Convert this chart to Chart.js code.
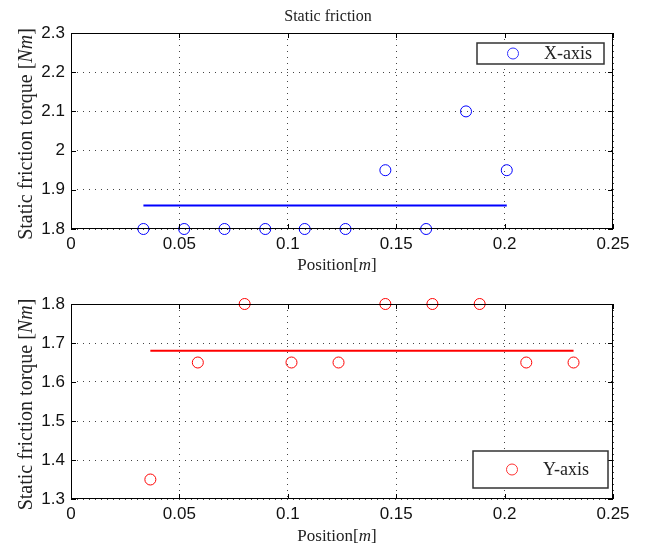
<!DOCTYPE html>
<html>
<head>
<meta charset="utf-8">
<script src="https://cdn.jsdelivr.net/npm/chart.js@4.4.0/dist/chart.umd.min.js"></script>
<style>
  body { margin: 0; background: #fff; }
  #wrap { position: relative; width: 646px; height: 550px; }
  .box { position: absolute; left: 0; width: 646px; height: 275px; }
</style>
</head>
<body>
<div id="wrap">
  <div class="box" style="top:0"><canvas id="chartX"></canvas></div>
  <div class="box" style="top:275px"><canvas id="chartY"></canvas></div>
</div>
<script>
// X-axis measurements
const xPos = [0.0334, 0.0522, 0.0708, 0.0896, 0.1078, 0.1266, 0.1450, 0.1638, 0.1822, 0.2010];
const xTorque = [1.80, 1.80, 1.80, 1.80, 1.80, 1.80, 1.95, 1.80, 2.10, 1.95];
const xMean = 1.86;

// Y-axis measurements
const yPos = [0.0366, 0.0585, 0.0801, 0.1017, 0.1234, 0.1450, 0.1667, 0.1885, 0.2100, 0.2318];
const yTorque = [1.35, 1.65, 1.80, 1.65, 1.65, 1.80, 1.80, 1.80, 1.65, 1.65];
const yMean = 1.68;

const serif = "'Liberation Serif', 'DejaVu Serif', serif";
const sans = "'Liberation Sans', Arial, sans-serif";

function drawMixed(ctx, parts, size, cx, cy) {
  let total = 0;
  parts.forEach(p => {
    ctx.font = (p[1] ? 'italic ' : '') + size + 'px ' + serif;
    p.w = ctx.measureText(p[0]).width;
    total += p.w;
  });
  let x = cx - total / 2;
  ctx.textAlign = 'left';
  ctx.textBaseline = 'middle';
  parts.forEach(p => {
    ctx.font = (p[1] ? 'italic ' : '') + size + 'px ' + serif;
    ctx.fillText(p[0], x, cy);
    x += p.w;
  });
}

// box, inside ticks, titles and legend, matlab style
const matlabFrame = {
  id: 'matlabFrame',
  afterDraw(chart, args, o) {
    const ctx = chart.ctx;
    const a = chart.chartArea;
    const xs = chart.scales.x, ys = chart.scales.y;
    ctx.save();
    ctx.strokeStyle = '#000';
    ctx.lineWidth = 1;
    ctx.strokeRect(a.left + 0.5, a.top + 0.5, a.right - a.left - 1, a.bottom - a.top - 1);
    ctx.beginPath();
    xs.ticks.forEach(t => {
      const px = Math.round(xs.getPixelForValue(t.value)) + 0.5;
      ctx.moveTo(px, a.bottom); ctx.lineTo(px, a.bottom - 5);
      ctx.moveTo(px, a.top); ctx.lineTo(px, a.top + 5);
    });
    ys.ticks.forEach(t => {
      const py = Math.round(ys.getPixelForValue(t.value)) + 0.5;
      ctx.moveTo(a.left, py); ctx.lineTo(a.left + 5, py);
      ctx.moveTo(a.right, py); ctx.lineTo(a.right - 5, py);
    });
    ctx.stroke();

    ctx.fillStyle = '#222';
    if (o.title) {
      ctx.font = '16px ' + serif;
      ctx.textAlign = 'center';
      ctx.textBaseline = 'middle';
      ctx.fillText(o.title, 328, 17);
    }
    drawMixed(ctx, [['Position[', false], ['m', true], [']', false]], 17, 337, o.xTitleY);
    ctx.save();
    ctx.translate(27, (a.top + a.bottom) / 2 + 3);
    ctx.rotate(-Math.PI / 2);
    drawMixed(ctx, [['Static friction torque [', false], ['Nm', true], [']', false]], 20, 0, 0);
    ctx.restore();

    // legend
    const L = o.legend;
    ctx.fillStyle = '#fff';
    ctx.fillRect(L.x0, L.y0, L.x1 - L.x0, L.y1 - L.y0);
    ctx.strokeStyle = '#333';
    ctx.lineWidth = 1.5;
    ctx.strokeRect(L.x0, L.y0, L.x1 - L.x0, L.y1 - L.y0);
    const my = (L.y0 + L.y1) / 2;
    ctx.beginPath();
    ctx.strokeStyle = L.color;
    ctx.lineWidth = 1;
    ctx.arc(L.x0 + L.mark, my, 5.5, 0, Math.PI * 2);
    ctx.stroke();
    ctx.fillStyle = '#222';
    ctx.font = '18px ' + serif;
    ctx.textAlign = 'left';
    ctx.textBaseline = 'middle';
    ctx.fillText(L.label, L.x0 + L.text, my + 1);
    ctx.restore();
  }
};

const fmt = v => String(Number(v.toFixed(2)));

function makeChart(id, pos, torque, mean, color, yMin, yMax, extra) {
  return new Chart(document.getElementById(id), {
    type: 'scatter',
    data: {
      datasets: [
        {
          label: extra.label,
          data: pos.map((p, i) => ({ x: p, y: torque[i] })),
          pointStyle: 'circle',
          pointRadius: 5.5,
          pointHoverRadius: 5.5,
          backgroundColor: 'rgba(0,0,0,0)',
          borderColor: color,
          borderWidth: 1,
          clip: false
        },
        {
          type: 'line',
          label: 'mean',
          data: [{ x: pos[0], y: mean }, { x: pos[pos.length - 1], y: mean }],
          borderColor: color,
          borderWidth: 2,
          pointRadius: 0,
          fill: false
        }
      ]
    },
    options: {
      responsive: true,
      maintainAspectRatio: false,
      animation: false,
      events: [],
      layout: { padding: { left: 0, right: 33, top: extra.top, bottom: 0 } },
      plugins: {
        legend: { display: false },
        tooltip: { enabled: false },
        matlabFrame: { title: extra.title, xTitleY: extra.xTitleY, legend: extra.legend }
      },
      scales: {
        x: {
          type: 'linear',
          min: 0, max: 0.25,
          ticks: { stepSize: 0.05, color: '#111', padding: 5, font: { family: sans, size: 17 }, callback: fmt },
          grid: { color: '#444', lineWidth: 1, drawTicks: false },
          border: { display: false, dash: [1, 5] },
          afterFit: s => { s.height = extra.xHeight; }
        },
        y: {
          min: yMin, max: yMax,
          ticks: { stepSize: 0.1, color: '#111', padding: 6, font: { family: sans, size: 17 }, callback: fmt },
          grid: { color: '#444', lineWidth: 1, drawTicks: false },
          border: { display: false, dash: [1, 5] },
          afterFit: s => { s.width = 71; }
        }
      }
    },
    plugins: [matlabFrame]
  });
}

makeChart('chartX', xPos, xTorque, xMean, '#0000ff', 1.8, 2.3, {
  label: 'X-axis', title: 'Static friction', top: 33, xHeight: 46, xTitleY: 266,
  legend: { x0: 477, y0: 43, x1: 604, y1: 64, color: '#3333ff', label: 'X-axis', mark: 36, text: 67 }
});

makeChart('chartY', yPos, yTorque, yMean, '#ff0000', 1.3, 1.8, {
  label: 'Y-axis', top: 29, xHeight: 51, xTitleY: 262,
  legend: { x0: 473, y0: 176, x1: 608, y1: 213, color: '#ff3333', label: 'Y-axis', mark: 39, text: 70 }
});
</script>
</body>
</html>
